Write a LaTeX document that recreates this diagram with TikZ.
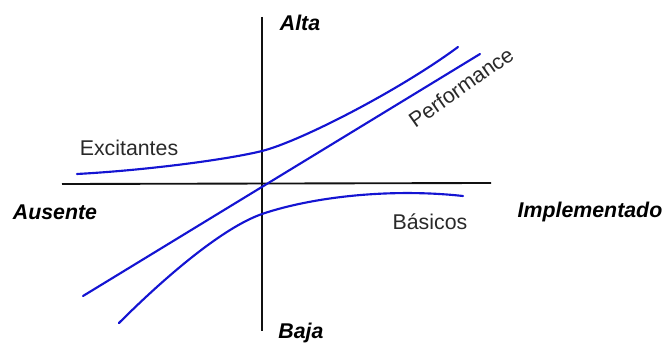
\documentclass[tikz,border=0pt]{standalone}
\usepackage{fontspec}
\setmainfont{Liberation Sans}
\usetikzlibrary{positioning}
\definecolor{ink}{HTML}{111111}
\definecolor{line}{HTML}{1414D2}

\begin{document}
\begin{tikzpicture}[x=0.75pt, y=-0.75pt,
  font=\fontsize{16}{19}\selectfont,
  axis/.style={draw=ink, line width=1.4pt},
  curve/.style={draw=line, line width=1.6pt, line cap=round},
  pole/.style={font=\fontsize{16}{19}\selectfont\bfseries\itshape, inner sep=0pt},
  lbl/.style={text=ink!90, inner sep=0pt}
]
  \useasboundingbox (0,0) rectangle (667,345);

  % axes
  \coordinate (top) at (262,17);
  \coordinate (bot) at (262,331);
  \coordinate (lft) at (62,184);
  \coordinate (rgt) at (491,183);
  \draw[axis, line width=1.1pt] (top) -- (bot);
  \draw[axis] (lft) -- (rgt);

  \node[pole] (alta) at (300,23) {Alta};
  \node[pole] (baja) at (301,333) {Baja};
  \node[pole] (aus) at (55,212) {Ausente};
  \node[pole] (impl) at (590,212) {Implementado};

  % curves
  \draw[curve] (77,174) .. controls (150,170) and (230,159) .. (262,151)
    .. controls (300,141.5) and (400,90) .. (458,47);
  \draw[curve] (83,296) -- (480,54);
  \draw[curve] (119,323) .. controls (164,278) and (222,228) .. (262,214)
    .. controls (312,197) and (390,188) .. (463,196);

  \node[lbl] (exc) at (129,148) {Excitantes};
  \node[lbl] (bas) at (430,222) {Básicos};
  \node[lbl, rotate=35] (perf) at (461,87) {Performance};
\end{tikzpicture}
\end{document}
